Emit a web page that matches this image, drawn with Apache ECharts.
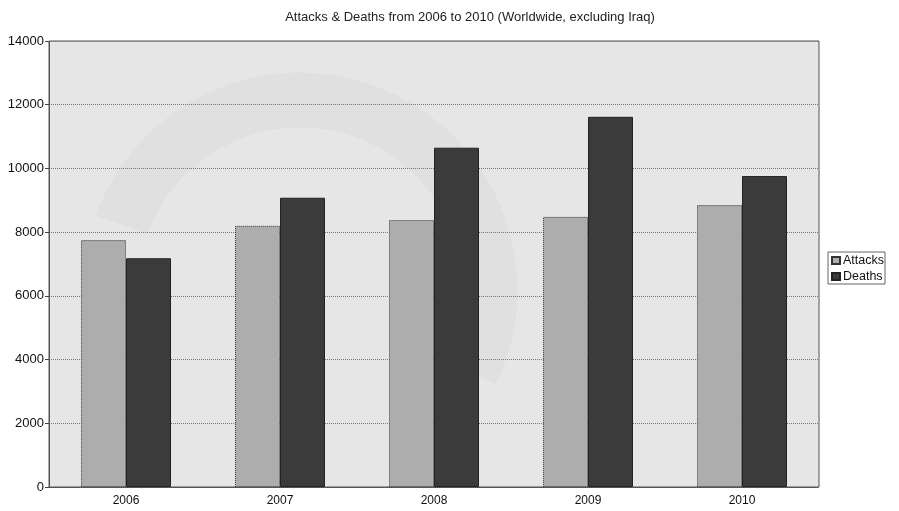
<!DOCTYPE html>
<html>
<head>
<meta charset="utf-8">
<script src="https://cdn.jsdelivr.net/npm/echarts@6/dist/echarts.min.js"></script>
<style>
  html, body { margin: 0; padding: 0; background: #ffffff; }
  #chart { width: 899px; height: 511px; }
</style>
</head>
<body>
<div id="chart"></div>
<script>
// Attacks and deaths by year, worldwide excluding Iraq
const years = ['2006', '2007', '2008', '2009', '2010'];
const attacks = [7750, 8200, 8380, 8480, 8850];
const deaths = [7180, 9080, 10650, 11620, 9760];
const yTicks = { min: 0, max: 14000, interval: 2000 };

const chart = echarts.init(document.getElementById('chart'), null, { renderer: 'canvas' });

const font = 'Liberation Sans, Arial, sans-serif';

chart.setOption({
  animation: false,
  backgroundColor: '#ffffff',
  title: {
    text: 'Attacks & Deaths from 2006 to 2010 (Worldwide, excluding Iraq)',
    left: 465,
    textAlign: 'center',
    top: 6,
    textStyle: { fontFamily: font, fontSize: 13, fontWeight: 'normal', color: '#222' }
  },
  legend: {
    orient: 'vertical',
    left: 828,
    top: 252,
    icon: 'rect',
    itemWidth: 8,
    itemHeight: 7,
    itemGap: 3,
    padding: [2, 1, 1, 3],
    borderColor: '#666',
    borderWidth: 1,
    backgroundColor: '#ffffff',
    textStyle: { fontFamily: font, fontSize: 12.5, color: '#111', padding: [0, 0, 0, -2] },
    data: ['Attacks', 'Deaths']
  },
  grid: {
    left: 49, right: 80, top: 41, bottom: 24,
    show: true,
    backgroundColor: '#e6e6e6',
    borderColor: '#555',
    borderWidth: 1
  },
  graphic: [{
    type: 'arc',
    z: 0,
    shape: { cx: 300, cy: 290, r: 190, startAngle: Math.PI + 0.35, endAngle: 0.45, clockwise: true },
    style: { stroke: 'rgba(0,0,0,0.025)', lineWidth: 55, fill: null },
    silent: true
  }],
  xAxis: {
    type: 'category',
    data: years,
    axisTick: { show: false },
    axisLine: { show: true, lineStyle: { color: '#444', type: 'dotted' } },
    axisLabel: { fontFamily: font, fontSize: 12, color: '#111', margin: 8 },
    splitLine: { show: false }
  },
  yAxis: {
    type: 'value',
    min: yTicks.min,
    max: yTicks.max,
    interval: yTicks.interval,
    axisLine: { show: true, lineStyle: { color: '#444', type: 'dotted' } },
    axisTick: { show: true, length: 4, lineStyle: { color: '#444' } },
    axisLabel: { fontFamily: font, fontSize: 13, color: '#111', margin: 5, formatter: v => String(v) },
    splitLine: { show: true, lineStyle: { color: '#777', type: 'dotted', width: 1 } }
  },
  series: [
    {
      name: 'Attacks',
      type: 'bar',
      data: attacks,
      barWidth: 45,
      barGap: '0%',
      itemStyle: { color: '#adadad', borderColor: '#333', borderWidth: 1, borderType: 'dotted' }
    },
    {
      name: 'Deaths',
      type: 'bar',
      data: deaths,
      barWidth: 45,
      barGap: '0%',
      itemStyle: { color: '#3b3b3b', borderColor: '#222', borderWidth: 1 }
    }
  ]
});
</script>
</body>
</html>
